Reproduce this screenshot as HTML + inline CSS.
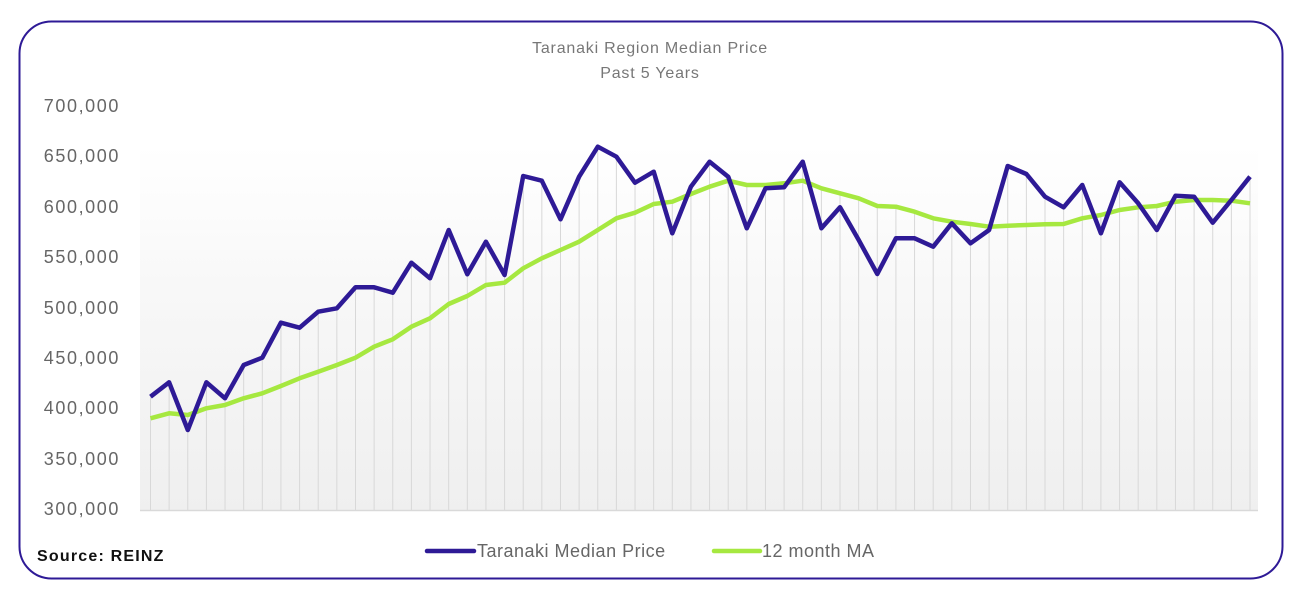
<!DOCTYPE html>
<html><head><meta charset="utf-8"><style>
html,body{margin:0;padding:0;background:#fff;width:1310px;height:600px;overflow:hidden}
svg{display:block;font-family:"Liberation Sans",sans-serif}
</style></head><body>
<svg width="1310" height="600" viewBox="0 0 1310 600" xmlns="http://www.w3.org/2000/svg">
<defs>
<linearGradient id="bg" x1="0" y1="0" x2="0" y2="1">
<stop offset="0" stop-color="#ffffff"/><stop offset="0.45" stop-color="#f7f7f7"/><stop offset="1" stop-color="#efefef"/>
</linearGradient>
</defs>
<rect x="19.5" y="21.5" width="1263" height="557" rx="32" fill="#fff" stroke="#2e1a96" stroke-width="2"/>
<rect x="140" y="145" width="1118" height="366" fill="url(#bg)"/>
<g id="grid" stroke="#d8d8d8" stroke-width="1"></g>
<line x1="140" y1="510.5" x2="1258" y2="510.5" stroke="#d9d9d9" stroke-width="1.5"/>
<text x="650" y="53" text-anchor="middle" font-size="16" letter-spacing="0.8" fill="#777">Taranaki Region Median Price</text>
<text x="650" y="78" text-anchor="middle" font-size="16" letter-spacing="0.8" fill="#777">Past 5 Years</text>
<g font-size="18" fill="#666" text-anchor="end" letter-spacing="1.6">
<text x="120" y="112">700,000</text>
<text x="120" y="162">650,000</text>
<text x="120" y="213">600,000</text>
<text x="120" y="263">550,000</text>
<text x="120" y="314">500,000</text>
<text x="120" y="364">450,000</text>
<text x="120" y="414">400,000</text>
<text x="120" y="465">350,000</text>
<text x="120" y="515">300,000</text>
</g>
<polyline id="ma" fill="none" stroke="#a6e840" stroke-width="4.5" stroke-linejoin="round"/>
<polyline id="med" fill="none" stroke="#2e1a96" stroke-width="4.5" stroke-linejoin="round"/>
<text x="37" y="561" font-size="16" font-weight="bold" letter-spacing="1.2" fill="#111">Source: REINZ</text>
<line x1="427" y1="551" x2="474" y2="551" stroke="#2e1a96" stroke-width="4.5" stroke-linecap="round"/>
<text x="477" y="557" font-size="18" letter-spacing="0.5" fill="#666">Taranaki Median Price</text>
<line x1="714" y1="551" x2="760" y2="551" stroke="#a6e840" stroke-width="4.5" stroke-linecap="round"/>
<text x="762" y="557" font-size="18" letter-spacing="0.5" fill="#666">12 month MA</text>
</svg>
<script>
var b=[396.7,382.3,430,382.3,398.3,365,357.7,322.7,327.7,311.7,308.3,287.3,287.3,292.7,262.7,278.3,230,274.3,241.7,275,176,180.7,219.3,176.7,146.7,156.7,182.7,171.7,233.3,186.7,161.7,176.7,228.3,188.3,187.3,161.7,228.3,207.3,240,274,238.3,238.3,246.7,223.3,243.3,230,166,174,196.7,207.3,185,233.3,182.3,203.3,230,195.7,196.7,222.7,200,176.7];
var g=[418.3,413.3,415,408.3,405,398.3,393.3,386,378.3,371.7,365,357.7,346.7,339.3,326.7,318.3,304,296,285,282.7,268.3,258.3,250,241.7,230,218.3,212.7,204,201.7,194,186.7,180.7,185,185,183.3,180.7,188.3,193.3,198.3,206,206.7,211.7,218.3,221.7,224,226.7,225.7,225,224.3,224,218.3,215,210,207.3,206,201.7,200,200,200.7,203.3];
var x0=150.5,st=(1250-150.5)/59,NS="http://www.w3.org/2000/svg";
var gr=document.getElementById('grid');
var pb=[],pg=[];
for(var i=0;i<60;i++){var x=x0+st*i;
var l=document.createElementNS(NS,'line');l.setAttribute('x1',x);l.setAttribute('x2',x);l.setAttribute('y1',Math.min(b[i],g[i]));l.setAttribute('y2',510);gr.appendChild(l);
pb.push(x.toFixed(1)+','+b[i]);pg.push(x.toFixed(1)+','+g[i]);}
document.getElementById('med').setAttribute('points',pb.join(' '));
document.getElementById('ma').setAttribute('points',pg.join(' '));
</script>
</body></html>
